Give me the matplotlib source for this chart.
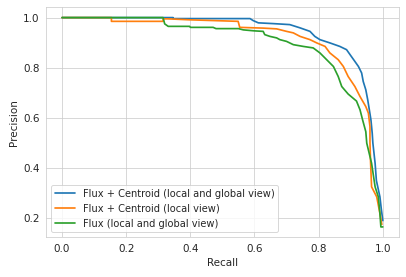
import matplotlib
matplotlib.use("Agg")
import matplotlib.pyplot as plt
import seaborn as sns

# precision/recall points
recall_fc_lg = [0.0, 0.346, 0.346, 0.424, 0.424, 0.586, 0.596, 0.612, 0.658, 0.710, 0.742, 0.773,
                0.788, 0.804, 0.835, 0.866, 0.887, 0.898, 0.913, 0.924, 0.934, 0.939, 0.947,
                0.953, 0.958, 0.963, 0.967, 0.969, 0.976, 0.980, 0.991, 0.995, 1.0]
prec_fc_lg = [1.0, 1.0, 0.996, 0.996, 0.996, 0.996, 0.988, 0.979, 0.976, 0.972, 0.959, 0.945,
              0.925, 0.912, 0.899, 0.885, 0.872, 0.852, 0.825, 0.805, 0.779, 0.745, 0.712,
              0.672, 0.632, 0.592, 0.539, 0.500, 0.419, 0.350, 0.285, 0.240, 0.190]

recall_fc_l = [0.0, 0.154, 0.154, 0.315, 0.315, 0.330, 0.400, 0.549, 0.554, 0.627, 0.669, 0.700,
               0.721, 0.742, 0.773, 0.794, 0.820, 0.835, 0.861, 0.877, 0.892, 0.913, 0.929,
               0.947, 0.955, 0.960, 0.960, 0.962, 0.965, 0.981, 0.991, 0.997]
prec_fc_l = [1.0, 1.0, 0.985, 0.985, 0.995, 0.995, 0.991, 0.985, 0.961, 0.958, 0.955, 0.945,
             0.939, 0.925, 0.912, 0.899, 0.885, 0.859, 0.832, 0.805, 0.765, 0.725, 0.685,
             0.645, 0.619, 0.565, 0.500, 0.419, 0.325, 0.285, 0.219, 0.175]

recall_f_lg = [0.0, 0.315, 0.320, 0.331, 0.398, 0.400, 0.471, 0.480, 0.550, 0.565, 0.600, 0.627,
               0.632, 0.648, 0.669, 0.679, 0.700, 0.721, 0.752, 0.783, 0.804, 0.825, 0.846,
               0.861, 0.872, 0.892, 0.918, 0.929, 0.937, 0.947, 0.950, 0.965, 0.976, 0.986,
               0.991, 0.994, 1.0]
prec_f_lg = [1.0, 1.0, 0.975, 0.965, 0.965, 0.961, 0.961, 0.956, 0.956, 0.951, 0.947, 0.945,
             0.932, 0.925, 0.919, 0.912, 0.905, 0.892, 0.885, 0.879, 0.859, 0.832, 0.805,
             0.765, 0.725, 0.695, 0.667, 0.632, 0.592, 0.545, 0.499, 0.419, 0.325, 0.285,
             0.219, 0.165, 0.165]

labels = ["Flux + Centroid (local and global view)",
          "Flux + Centroid (local view)",
          "Flux (local and global view)"]

sns.set_style("whitegrid")

fig = plt.figure(figsize=(6, 4.085), dpi=67.83)
ax = fig.add_axes([0.113, 0.143, 0.867, 0.831])
ax.plot(recall_fc_lg, prec_fc_lg, lw=1.8, label=labels[0])
ax.plot(recall_fc_l, prec_fc_l, lw=1.8, label=labels[1])
ax.plot(recall_f_lg, prec_f_lg, lw=1.8, label=labels[2])

ax.set_xlabel("Recall", fontsize=11)
ax.set_ylabel("Precision", fontsize=11)
ax.tick_params(labelsize=11)
ax.set_xticks([0.0, 0.2, 0.4, 0.6, 0.8, 1.0])
ax.set_yticks([0.2, 0.4, 0.6, 0.8, 1.0])
ax.legend(loc="lower left", fontsize=10.5)

fig.savefig("out.png", dpi=67.83)
